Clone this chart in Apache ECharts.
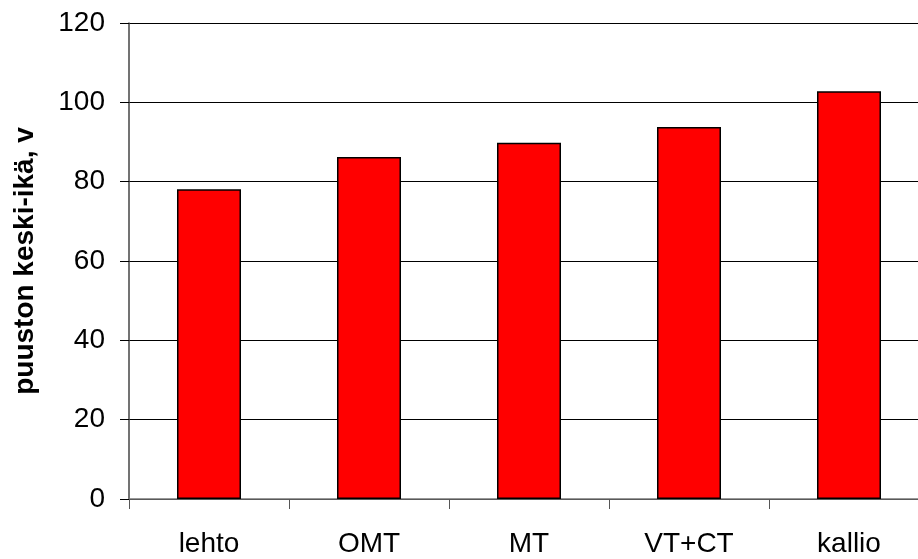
<!DOCTYPE html>
<html>
<head>
<meta charset="utf-8">
<script src="https://cdn.jsdelivr.net/npm/echarts@6/dist/echarts.min.js"></script>
<style>
  html, body { margin: 0; padding: 0; background: #fff; }
  #chart { width: 918px; height: 559px; }
</style>
</head>
<body>
<div id="chart"></div>
<script>
// kasvupaikkatyypit ja puuston keski-ikä
var categories = ['lehto', 'OMT', 'MT', 'VT+CT', 'kallio'];
var ages = [78.1, 86.2, 89.8, 93.8, 102.8];
var yTicks = [0, 20, 40, 60, 80, 100, 120];

var myChart = echarts.init(document.getElementById('chart'));
var option = {
    animation: false,
    grid: {
        left: 129,
        right: -11,
        top: 23,
        bottom: 60,
        outerBoundsMode: 'none',
        containLabel: false
    },
    xAxis: {
        type: 'category',
        data: categories,
        boundaryGap: true,
        axisLine: { lineStyle: { color: '#777', width: 1.5 } },
        axisTick: { show: true, alignWithLabel: false, length: 10, lineStyle: { color: '#555' } },
        axisLabel: {
            color: '#000',
            fontFamily: 'Liberation Sans, Arial',
            fontSize: 28,
            margin: 31
        }
    },
    yAxis: {
        type: 'value',
        min: yTicks[0],
        max: yTicks[yTicks.length - 1],
        interval: 20,
        name: 'puuston keski-ikä, v',
        nameLocation: 'middle',
        nameGap: 90,
        nameTextStyle: {
            color: '#000',
            fontFamily: 'Liberation Sans, Arial',
            fontSize: 28,
            fontWeight: 'bold'
        },
        axisLine: { show: true, lineStyle: { color: '#444', width: 1.5 } },
        axisTick: { show: true, length: 9, lineStyle: { color: '#000' } },
        axisLabel: {
            color: '#000',
            fontFamily: 'Liberation Sans, Arial',
            fontSize: 28,
            margin: 24
        },
        splitLine: { show: true, lineStyle: { color: '#000', width: 1 } }
    },
    series: [{
        type: 'bar',
        data: ages,
        barWidth: '40%',
        itemStyle: {
            color: '#ff0000',
            borderColor: '#000',
            borderWidth: 1.5
        }
    }]
};
myChart.setOption(option);
</script>
</body>
</html>
